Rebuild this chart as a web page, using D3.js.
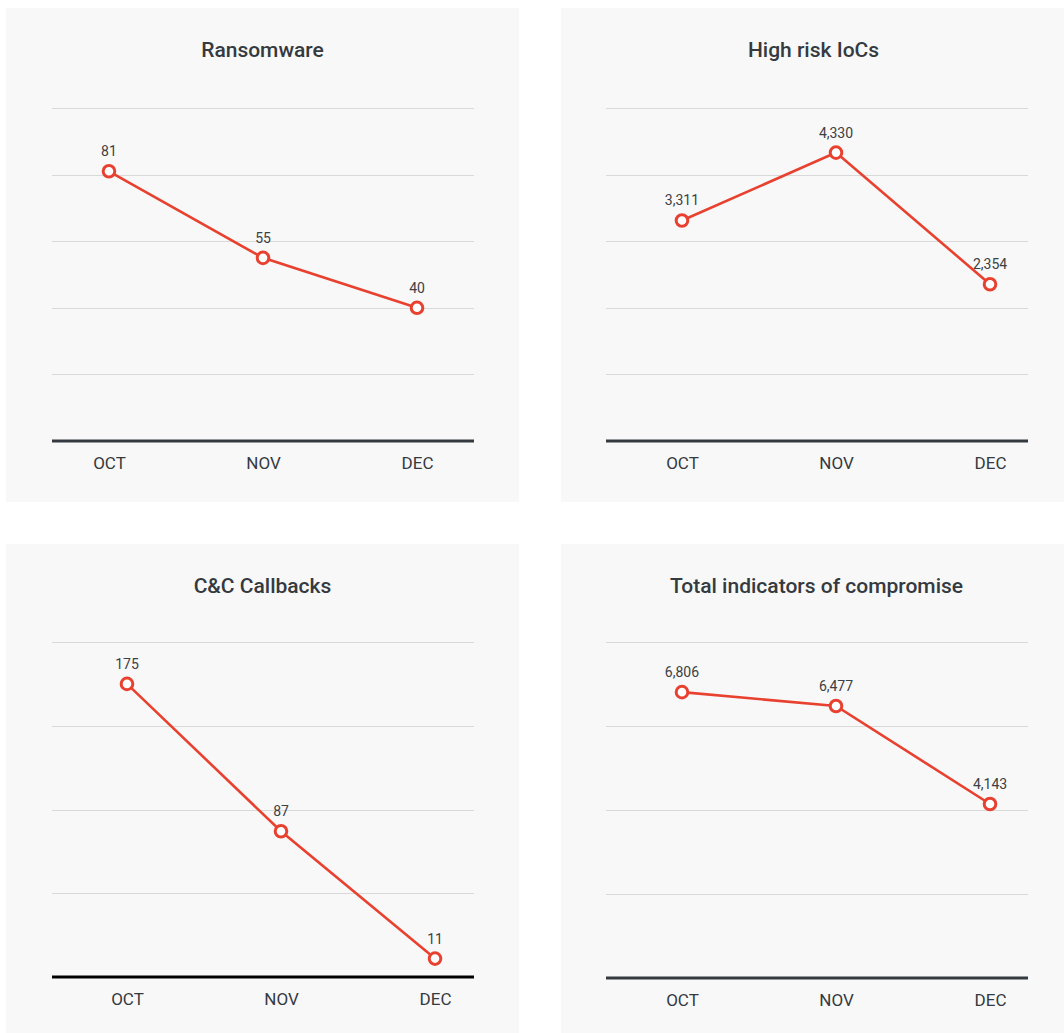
<!DOCTYPE html>
<html>
<head>
<meta charset="utf-8">
<script src="https://cdn.jsdelivr.net/npm/d3@7"></script>
<style>
  html, body { margin: 0; padding: 0; background: #ffffff; }
  svg { display: block; }
</style>
</head>
<body>
<svg id="chart" width="1064" height="1033"></svg>
<script>
// Monthly threat figures
const months = ["OCT", "NOV", "DEC"];
const ransomware = [81, 55, 40];
const highRiskIocs = [3311, 4330, 2354];
const ccCallbacks = [175, 87, 11];
const totalIocs = [6806, 6477, 4143];

const titles = ["Ransomware", "High risk IoCs", "C&C Callbacks", "Total indicators of compromise"];
const seriesList = [ransomware, highRiskIocs, ccCallbacks, totalIocs];
const yMaxes = [100, 5000, 200, 8000];
const yTicks = [
  [20, 40, 60, 80, 100],
  [1000, 2000, 3000, 4000, 5000],
  [50, 100, 150, 200],
  [2000, 4000, 6000, 8000]
];

const RED = "#e8412f";
const TEXT = "#343a40";
const FONT = "Roboto, 'Liberation Sans', sans-serif";

// panel frames: background box, plot box, point offset
const panels = [
  { bx: 6,   by: 8,   bw: 513, bh: 494, px0: 52,  px1: 474,  yTop: 108, yBase: 441, shift: 0,  titleDx: 0, axisColor: "#343a40" },
  { bx: 561, by: 8,   bw: 503, bh: 494, px0: 606, px1: 1028, yTop: 108, yBase: 441, shift: 19, titleDx: 1, axisColor: "#343a40" },
  { bx: 6,   by: 544, bw: 513, bh: 489, px0: 52,  px1: 474,  yTop: 642, yBase: 977, shift: 18, titleDx: 0, axisColor: "#000000" },
  { bx: 561, by: 544, bw: 503, bh: 489, px0: 606, px1: 1028, yTop: 642, yBase: 978, shift: 19, titleDx: 4, axisColor: "#343a40" }
];

const svg = d3.select("#chart");
const fmt = d3.format(",");

panels.forEach((p, i) => {
  const values = seriesList[i];
  const data = months.map((m, j) => ({ month: m, value: values[j] }));
  const g = svg.append("g");

  g.append("rect")
    .attr("x", p.bx).attr("y", p.by)
    .attr("width", p.bw).attr("height", p.bh)
    .attr("fill", "#f8f8f8");

  g.append("text")
    .attr("x", p.bx + p.bw / 2 + p.titleDx)
    .attr("y", p.by + 49)
    .attr("text-anchor", "middle")
    .attr("font-family", FONT)
    .attr("font-weight", 500)
    .attr("font-size", 21)
    .attr("fill", TEXT)
    .text(titles[i]);

  const x = d3.scalePoint()
    .domain(months)
    .range([p.px0 + p.shift, p.px1 + p.shift])
    .padding(0.37);

  const y = d3.scaleLinear()
    .domain([0, yMaxes[i]])
    .range([p.yBase, p.yTop]);

  // horizontal gridlines
  g.append("g")
    .selectAll("line")
    .data(yTicks[i])
    .join("line")
    .attr("x1", p.px0).attr("x2", p.px1)
    .attr("y1", d => Math.round(y(d)) + 0.5)
    .attr("y2", d => Math.round(y(d)) + 0.5)
    .attr("stroke", "#d9d9d9")
    .attr("stroke-width", 1);

  // baseline
  g.append("line")
    .attr("x1", p.px0).attr("x2", p.px1)
    .attr("y1", y(0)).attr("y2", y(0))
    .attr("stroke", p.axisColor)
    .attr("stroke-width", 3);

  // month labels
  const xAxis = d3.axisBottom(x).tickSize(0).tickPadding(0);
  const ax = g.append("g")
    .attr("transform", `translate(0,${y(0) + 28})`)
    .call(xAxis);
  ax.select(".domain").remove();
  ax.selectAll("text")
    .attr("dy", 0)
    .attr("font-family", FONT)
    .attr("font-size", 17)
    .attr("fill", TEXT);

  // series line
  g.append("path")
    .datum(data)
    .attr("fill", "none")
    .attr("stroke", RED)
    .attr("stroke-width", 2.6)
    .attr("d", d3.line().x(d => x(d.month)).y(d => y(d.value)));

  // markers
  g.append("g")
    .selectAll("circle")
    .data(data)
    .join("circle")
    .attr("cx", d => x(d.month))
    .attr("cy", d => y(d.value))
    .attr("r", 5.8)
    .attr("fill", "#ffffff")
    .attr("stroke", RED)
    .attr("stroke-width", 3);

  // value labels
  g.append("g")
    .selectAll("text")
    .data(data)
    .join("text")
    .attr("x", d => x(d.month))
    .attr("y", d => y(d.value) - 15)
    .attr("text-anchor", "middle")
    .attr("font-family", FONT)
    .attr("font-size", 14)
    .attr("fill", "#3c4043")
    .text(d => fmt(d.value));
});
</script>
</body>
</html>
